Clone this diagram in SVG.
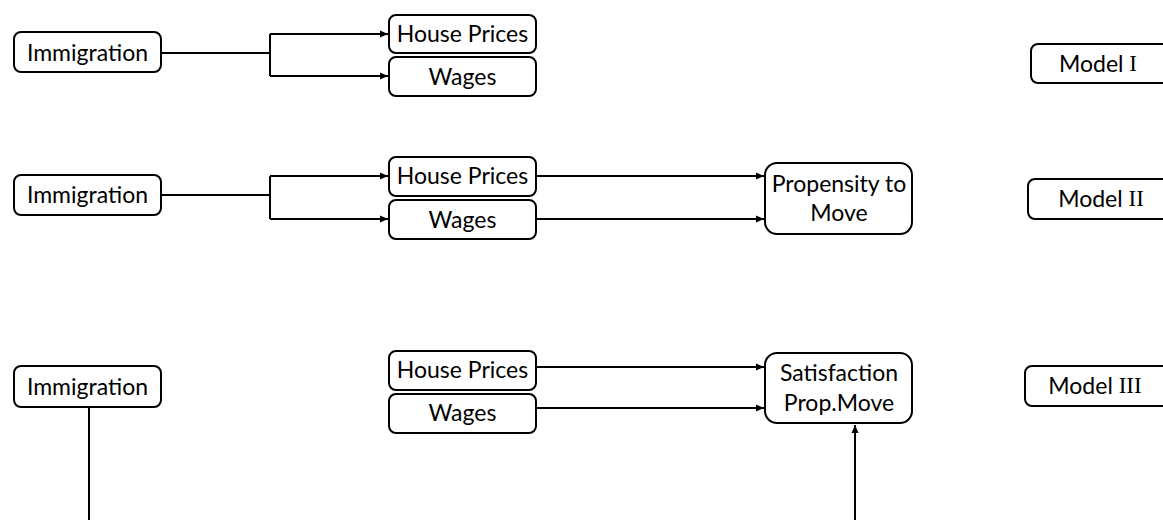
<svg xmlns="http://www.w3.org/2000/svg" width="1163" height="520" viewBox="0 0 1163 520">
<style>
.box{fill:#fff;stroke:#000;stroke-width:2}
.t{font-family:Lato,"Open Sans",sans-serif;font-size:23px;fill:#000;text-anchor:middle;dominant-baseline:central}
.rn{font-family:"Liberation Serif",serif}
.c{fill:none;stroke:#000;stroke-width:2}
</style>
<defs>
<marker id="ah" markerUnits="userSpaceOnUse" markerWidth="9" markerHeight="8" refX="8" refY="4" orient="auto">
<path d="M0,0.5 L8,4 L0,7.5 Z" fill="#000"/>
</marker>
</defs>
<rect width="1163" height="520" fill="#fff"/>
<g id="connectors">
<path class="c" d="M161,53 H270 M270,34 V76 M270,34 H388 M270,76 H388" />
<path class="c" d="M270,34 H388" marker-end="url(#ah)"/>
<path class="c" d="M270,76 H388" marker-end="url(#ah)"/>
<path class="c" d="M161,195 H270 M270,176 V219"/>
<path class="c" d="M270,176 H388" marker-end="url(#ah)"/>
<path class="c" d="M270,219 H388" marker-end="url(#ah)"/>
<path class="c" d="M536,176 H764" marker-end="url(#ah)"/>
<path class="c" d="M536,219 H764" marker-end="url(#ah)"/>
<path class="c" d="M536,367 H764" marker-end="url(#ah)"/>
<path class="c" d="M536,408 H764" marker-end="url(#ah)"/>
<path class="c" d="M89,407 V520"/>
<path class="c" d="M855,520 V425" marker-end="url(#ah)"/>
</g>
<g id="imm1"><rect class="box" x="14" y="32" width="147" height="40" rx="7"/><text class="t" x="87.5" y="52">Immigration</text></g>
<g id="hp1"><rect class="box" x="389" y="15" width="147" height="38" rx="7"/><text class="t" x="462.5" y="33">House Prices</text></g>
<g id="w1"><rect class="box" x="389" y="57" width="147" height="39" rx="7"/><text class="t" x="462.5" y="76">Wages</text></g>
<g id="m1"><rect class="box" x="1031" y="44" width="160" height="39" rx="7"/><text class="t" x="1098" y="63">Model <tspan class="rn">I</tspan></text></g>

<g id="imm2"><rect class="box" x="14" y="175" width="147" height="40" rx="7"/><text class="t" x="87.5" y="194">Immigration</text></g>
<g id="hp2"><rect class="box" x="389" y="157" width="147" height="39" rx="7"/><text class="t" x="462.5" y="175">House Prices</text></g>
<g id="w2"><rect class="box" x="389" y="200" width="147" height="39" rx="7"/><text class="t" x="462.5" y="219">Wages</text></g>
<g id="ptm"><rect class="box" x="765" y="163" width="147" height="71" rx="12"/><text class="t" x="839" y="183">Propensity to</text><text class="t" x="839" y="212">Move</text></g>
<g id="m2"><rect class="box" x="1028" y="179" width="160" height="40" rx="7"/><text class="t" x="1101" y="198">Model <tspan class="rn">II</tspan></text></g>

<g id="imm3"><rect class="box" x="14" y="366" width="147" height="41" rx="7"/><text class="t" x="87.5" y="386">Immigration</text></g>
<g id="hp3"><rect class="box" x="389" y="351" width="147" height="39" rx="7"/><text class="t" x="462.5" y="369">House Prices</text></g>
<g id="w3"><rect class="box" x="389" y="394" width="147" height="39" rx="7"/><text class="t" x="462.5" y="412">Wages</text></g>
<g id="spm"><rect class="box" x="765" y="353" width="147" height="70" rx="12"/><text class="t" x="839" y="372">Satisfaction</text><text class="t" x="839" y="402">Prop.Move</text></g>
<g id="m3"><rect class="box" x="1025" y="366" width="160" height="40" rx="7"/><text class="t" x="1095" y="385">Model <tspan class="rn">III</tspan></text></g>
</svg>
